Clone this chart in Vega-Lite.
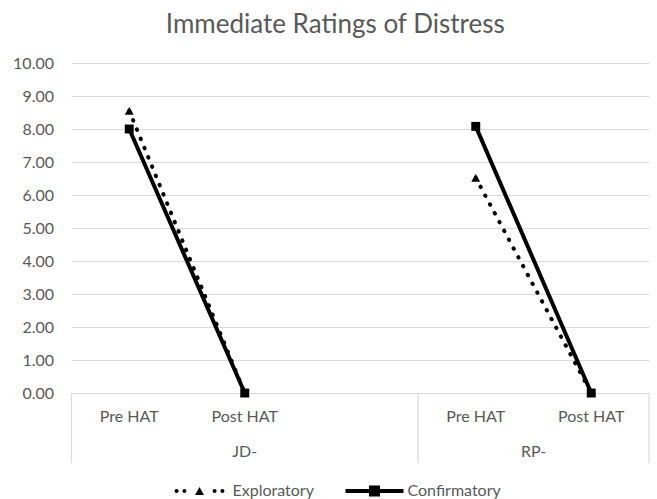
{
  "$schema": "https://vega.github.io/schema/vega-lite/v6.json",
  "autosize": {"type": "none"},
  "padding": {"left": 71.5, "top": 63, "right": 8, "bottom": 36},
  "width": 577.5,
  "height": 400,
  "background": "white",
  "config": {
    "view": {"stroke": null},
    "font": "Lato",
    "axisY": {
      "grid": true,
      "gridColor": "#D9D9D9",
      "gridWidth": 1.2,
      "domain": false,
      "ticks": false,
      "tickSize": 0,
      "labelPadding": 18,
      "labelOverlap": false,
      "labelFont": "Lato",
      "labelFontSize": 16,
      "labelColor": "#595959",
      "title": null
    }
  },
  "title": {
    "text": "Immediate Ratings of Distress",
    "font": "Lato",
    "fontSize": 26,
    "fontWeight": "normal",
    "color": "#595959",
    "anchor": "middle",
    "dx": -25,
    "offset": 17
  },
  "datasets": {
    "ratings": [
      {"series": "Exploratory", "group": "JD-", "phase": "Pre HAT", "cat": "JD- Pre HAT", "value": 8.55},
      {"series": "Exploratory", "group": "JD-", "phase": "Post HAT", "cat": "JD- Post HAT", "value": 0},
      {"series": "Exploratory", "group": "RP-", "phase": "Pre HAT", "cat": "RP- Pre HAT", "value": 6.52},
      {"series": "Exploratory", "group": "RP-", "phase": "Post HAT", "cat": "RP- Post HAT", "value": 0},
      {"series": "Confirmatory", "group": "JD-", "phase": "Pre HAT", "cat": "JD- Pre HAT", "value": 8.0},
      {"series": "Confirmatory", "group": "JD-", "phase": "Post HAT", "cat": "JD- Post HAT", "value": 0},
      {"series": "Confirmatory", "group": "RP-", "phase": "Pre HAT", "cat": "RP- Pre HAT", "value": 8.08},
      {"series": "Confirmatory", "group": "RP-", "phase": "Post HAT", "cat": "RP- Post HAT", "value": 0}
    ],
    "phases": [
      {"cat": "JD- Pre HAT", "label": "Pre HAT"},
      {"cat": "JD- Post HAT", "label": "Post HAT"},
      {"cat": "RP- Pre HAT", "label": "Pre HAT"},
      {"cat": "RP- Post HAT", "label": "Post HAT"}
    ],
    "groupsMid": [
      {"cat": "JD- Post HAT", "label": "JD-"}
    ],
    "groupsEdge": [
      {"cat": "RP- Post HAT", "label": "RP-"}
    ],
    "bounds": [
      {"cat": "JD- Pre HAT"},
      {"cat": "RP- Pre HAT"}
    ],
    "boundsEnd": [
      {"cat": "RP- Post HAT"}
    ]
  },
  "encoding": {
    "x": {
      "field": "cat",
      "type": "nominal",
      "scale": {
        "type": "band",
        "domain": ["JD- Pre HAT", "JD- Post HAT", "JD- gap", "RP- Pre HAT", "RP- Post HAT"],
        "paddingInner": 0,
        "paddingOuter": 0
      },
      "axis": null
    }
  },
  "layer": [
    {
      "data": {"name": "ratings"},
      "mark": {"type": "line", "color": "black", "strokeWidth": 4, "strokeCap": "round", "strokeDash": [0.5, 9.5]},
      "transform": [{"filter": "datum.series === 'Exploratory'"}],
      "encoding": {
        "x": {"field": "cat", "type": "nominal", "bandPosition": 0.5},
        "y": {
          "field": "value",
          "type": "quantitative",
          "scale": {"domain": [-2.12, 10], "nice": false, "zero": false},
          "axis": {"values": [0, 1, 2, 3, 4, 5, 6, 7, 8, 9, 10], "format": ".2f", "labelOverlap": false}
        },
        "detail": {"field": "group"},
        "order": {"field": "phase", "sort": "descending"}
      }
    },
    {
      "data": {"name": "ratings"},
      "mark": {"type": "line", "color": "black", "strokeWidth": 4, "strokeCap": "round"},
      "transform": [{"filter": "datum.series === 'Confirmatory'"}],
      "encoding": {
        "x": {"field": "cat", "type": "nominal", "bandPosition": 0.5},
        "y": {
          "field": "value",
          "type": "quantitative",
          "axis": {"values": [0, 1, 2, 3, 4, 5, 6, 7, 8, 9, 10], "format": ".2f", "labelOverlap": false}
        },
        "detail": {"field": "group"},
        "order": {"field": "phase", "sort": "descending"}
      }
    },
    {
      "data": {"name": "ratings"},
      "mark": {"type": "point", "shape": "triangle-up", "filled": true, "opacity": 1, "color": "black", "size": 80, "strokeWidth": 0},
      "transform": [{"filter": "datum.series === 'Exploratory'"}],
      "encoding": {
        "x": {"field": "cat", "type": "nominal", "bandPosition": 0.5},
        "y": {
          "field": "value",
          "type": "quantitative",
          "axis": {"values": [0, 1, 2, 3, 4, 5, 6, 7, 8, 9, 10], "format": ".2f", "labelOverlap": false}
        }
      }
    },
    {
      "data": {"name": "ratings"},
      "mark": {"type": "point", "shape": "square", "filled": true, "opacity": 1, "color": "black", "size": 80, "strokeWidth": 0},
      "transform": [{"filter": "datum.series === 'Confirmatory'"}],
      "encoding": {
        "x": {"field": "cat", "type": "nominal", "bandPosition": 0.5},
        "y": {
          "field": "value",
          "type": "quantitative",
          "axis": {"values": [0, 1, 2, 3, 4, 5, 6, 7, 8, 9, 10], "format": ".2f", "labelOverlap": false}
        }
      }
    },
    {
      "data": {"name": "bounds"},
      "mark": {"type": "rule", "color": "#D9D9D9", "strokeWidth": 1.2},
      "encoding": {
        "x": {"field": "cat", "type": "nominal", "bandPosition": 0},
        "y": {"datum": 0, "type": "quantitative", "axis": {"values": [0, 1, 2, 3, 4, 5, 6, 7, 8, 9, 10], "format": ".2f", "labelOverlap": false}},
        "y2": {"datum": -2.12}
      }
    },
    {
      "data": {"name": "boundsEnd"},
      "mark": {"type": "rule", "color": "#D9D9D9", "strokeWidth": 1.2},
      "encoding": {
        "x": {"field": "cat", "type": "nominal", "bandPosition": 1},
        "y": {"datum": 0, "type": "quantitative", "axis": {"values": [0, 1, 2, 3, 4, 5, 6, 7, 8, 9, 10], "format": ".2f", "labelOverlap": false}},
        "y2": {"datum": -2.12}
      }
    },
    {
      "data": {"name": "phases"},
      "mark": {"type": "text", "font": "Lato", "fontSize": 16, "color": "#595959", "baseline": "middle", "align": "center"},
      "encoding": {
        "x": {"field": "cat", "type": "nominal", "bandPosition": 0.5},
        "y": {"datum": -0.72, "type": "quantitative", "axis": {"values": [0, 1, 2, 3, 4, 5, 6, 7, 8, 9, 10], "format": ".2f", "labelOverlap": false}},
        "text": {"field": "label"}
      }
    },
    {
      "data": {"name": "groupsMid"},
      "mark": {"type": "text", "font": "Lato", "fontSize": 16, "color": "#595959", "baseline": "middle", "align": "center"},
      "encoding": {
        "x": {"field": "cat", "type": "nominal", "bandPosition": 0.5},
        "y": {"datum": -1.78, "type": "quantitative", "axis": {"values": [0, 1, 2, 3, 4, 5, 6, 7, 8, 9, 10], "format": ".2f", "labelOverlap": false}},
        "text": {"field": "label"}
      }
    },
    {
      "data": {"name": "groupsEdge"},
      "mark": {"type": "text", "font": "Lato", "fontSize": 16, "color": "#595959", "baseline": "middle", "align": "center"},
      "encoding": {
        "x": {"field": "cat", "type": "nominal", "bandPosition": 0},
        "y": {"datum": -1.78, "type": "quantitative", "axis": {"values": [0, 1, 2, 3, 4, 5, 6, 7, 8, 9, 10], "format": ".2f", "labelOverlap": false}},
        "text": {"field": "label"}
      }
    },
    {
      "data": {"name": "ratings"},
      "transform": [{"filter": "false"}],
      "mark": {"type": "point", "filled": true, "color": "black"},
      "encoding": {
        "x": {"field": "cat", "type": "nominal", "bandPosition": 0.5},
        "y": {"field": "value", "type": "quantitative", "axis": {"values": [0, 1, 2, 3, 4, 5, 6, 7, 8, 9, 10], "format": ".2f", "labelOverlap": false}},
        "shape": {
          "field": "series",
          "type": "nominal",
          "scale": {
            "domain": ["Exploratory", "Confirmatory"],
            "range": [
              "M-0.859,0a0.069,0.069 0 1,0 0.138,0a0.069,0.069 0 1,0 -0.138,0Z M-0.589,0a0.069,0.069 0 1,0 0.138,0a0.069,0.069 0 1,0 -0.138,0Z M0.451,0a0.069,0.069 0 1,0 0.138,0a0.069,0.069 0 1,0 -0.138,0Z M0.721,0a0.069,0.069 0 1,0 0.138,0a0.069,0.069 0 1,0 -0.138,0Z M-0.155,0.134L0,-0.134L0.155,0.134Z",
              "M-1,-0.069H1V0.069H-1Z M-0.19,-0.19H0.19V0.19H-0.19Z"
            ]
          },
          "legend": {
            "orient": "none",
            "legendX": 99,
            "legendY": 399,
            "direction": "horizontal",
            "title": null,
            "padding": 0,
            "symbolSize": 3364,
            "symbolFillColor": "black",
            "symbolStrokeColor": "black",
            "symbolStrokeWidth": 0,
            "symbolOpacity": 1,
            "labelFont": "Lato",
            "labelFontSize": 16,
            "labelColor": "#595959",
            "labelOffset": 4,
            "columnPadding": 31
          }
        }
      }
    }
  ]
}
